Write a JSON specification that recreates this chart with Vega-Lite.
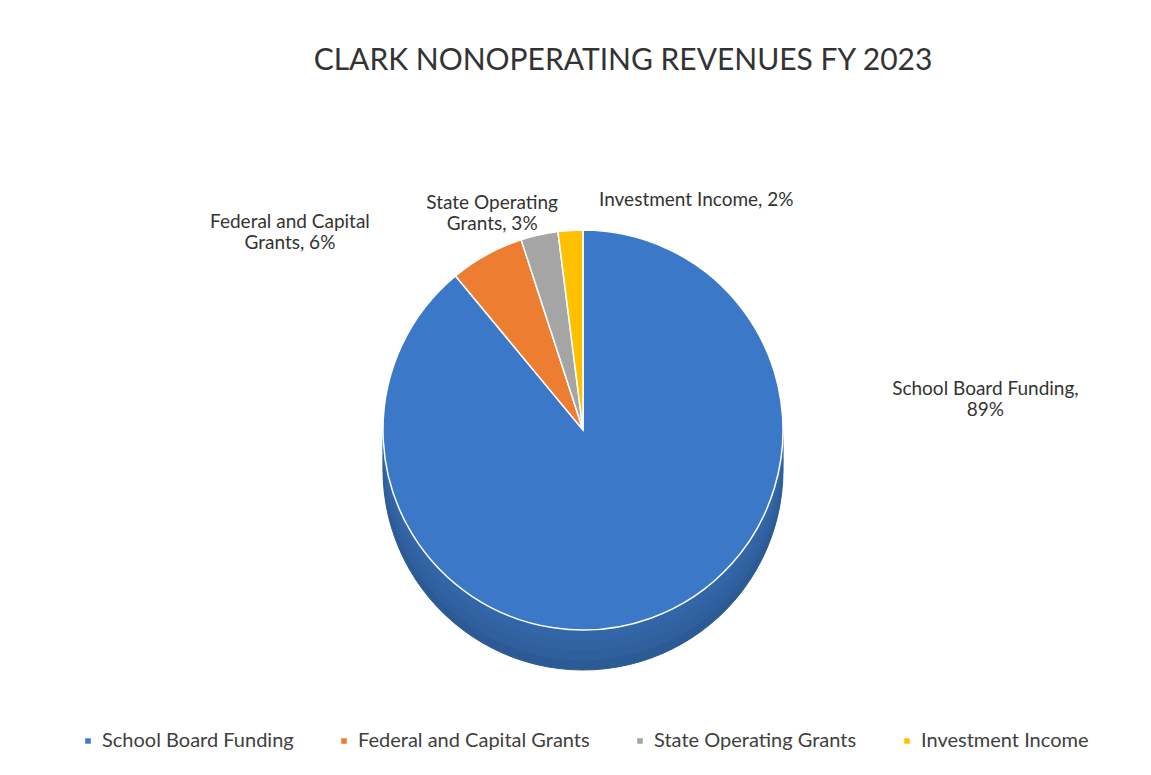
{
  "$schema": "https://vega.github.io/schema/vega-lite/v6.json",
  "autosize": {"type": "none"},
  "width": 1136,
  "height": 560,
  "padding": {"top": 150, "bottom": 65, "left": 15, "right": 0},
  "background": "white",
  "title": {
    "text": "CLARK NONOPERATING REVENUES FY 2023",
    "font": "Lato",
    "fontSize": 30,
    "fontWeight": "normal",
    "color": "#333333",
    "offset": 74,
    "dx": 40,
    "frame": "group"
  },
  "data": {
    "values": [
      {"cat": "School Board Funding", "pct": 89, "rank": 1, "label": "School Board Funding,\n89%"},
      {"cat": "Federal and Capital Grants", "pct": 6, "rank": 2, "label": "Federal and Capital\nGrants, 6%"},
      {"cat": "State Operating Grants", "pct": 3, "rank": 3, "label": "State Operating\nGrants, 3%"},
      {"cat": "Investment Income", "pct": 2, "rank": 4, "label": "Investment Income, 2%"}
    ]
  },
  "transform": [
    {"window": [{"op": "sum", "field": "pct", "as": "cum"}], "sort": [{"field": "rank"}]}
  ],
  "layer": [
    {
      "mark": {"type": "arc", "outerRadius": 200, "yOffset": 40, "fill": "#2c5a94", "stroke": "#2c5a94"},
      "encoding": {"theta": {"field": "pct", "type": "quantitative", "stack": true}, "order": {"field": "rank", "type": "quantitative"}}
    },
    {
      "mark": {"type": "arc", "outerRadius": 200, "yOffset": 30, "fill": "#2f5f9c", "stroke": "#2f5f9c"},
      "encoding": {"theta": {"field": "pct", "type": "quantitative", "stack": true}, "order": {"field": "rank", "type": "quantitative"}}
    },
    {
      "mark": {"type": "arc", "outerRadius": 200, "yOffset": 20, "fill": "#3163a3", "stroke": "#3163a3"},
      "encoding": {"theta": {"field": "pct", "type": "quantitative", "stack": true}, "order": {"field": "rank", "type": "quantitative"}}
    },
    {
      "mark": {"type": "arc", "outerRadius": 200, "yOffset": 10, "fill": "#3366a8", "stroke": "#3366a8"},
      "encoding": {"theta": {"field": "pct", "type": "quantitative", "stack": true}, "order": {"field": "rank", "type": "quantitative"}}
    },
    {
      "mark": {"type": "arc", "outerRadius": 200, "stroke": "white", "strokeWidth": 1.5},
      "encoding": {
        "theta": {"field": "pct", "type": "quantitative", "stack": true},
        "order": {"field": "rank", "type": "quantitative"},
        "color": {
          "field": "cat",
          "type": "nominal",
          "sort": ["School Board Funding", "Federal and Capital Grants", "State Operating Grants", "Investment Income"],
          "scale": {
            "domain": ["School Board Funding", "Federal and Capital Grants", "State Operating Grants", "Investment Income"],
            "range": ["#3b78c8", "#ed7d31", "#a5a5a5", "#ffc000"]
          },
          "legend": {
            "title": null,
            "orient": "bottom",
            "direction": "horizontal",
            "symbolType": "square",
            "symbolSize": 50,
            "labelFont": "Lato",
            "labelFontSize": 20,
            "labelColor": "#404040",
            "labelLimit": 400,
            "columnPadding": 40,
            "offset": 21
          }
        }
      }
    },
    {
      "transform": [{"filter": "datum.cat === 'School Board Funding'"}],
      "mark": {"type": "text", "radius": 230, "font": "Lato", "fontSize": 19, "color": "#333333", "lineBreak": "\n", "align": "center", "baseline": "middle", "dx": 549, "dy": 136},
      "encoding": {"theta": {"field": "cum", "type": "quantitative", "stack": null}, "text": {"field": "label"}}
    },
    {
      "transform": [{"filter": "datum.cat === 'Federal and Capital Grants'"}],
      "mark": {"type": "text", "radius": 230, "font": "Lato", "fontSize": 19, "color": "#333333", "lineBreak": "\n", "align": "center", "baseline": "middle", "dx": -222, "dy": 11},
      "encoding": {"theta": {"field": "cum", "type": "quantitative", "stack": null}, "text": {"field": "label"}}
    },
    {
      "transform": [{"filter": "datum.cat === 'State Operating Grants'"}],
      "mark": {"type": "text", "radius": 230, "font": "Lato", "fontSize": 19, "color": "#333333", "lineBreak": "\n", "align": "center", "baseline": "middle", "dx": -62, "dy": 1},
      "encoding": {"theta": {"field": "cum", "type": "quantitative", "stack": null}, "text": {"field": "label"}}
    },
    {
      "transform": [{"filter": "datum.cat === 'Investment Income'"}],
      "mark": {"type": "text", "radius": 230, "font": "Lato", "fontSize": 19, "color": "#333333", "lineBreak": "\n", "align": "left", "baseline": "middle", "dx": 16, "dy": 0},
      "encoding": {"theta": {"field": "cum", "type": "quantitative", "stack": null}, "text": {"field": "label"}}
    }
  ],
  "config": {"view": {"stroke": null}, "legend": {"layout": {"bottom": {"anchor": "middle"}}}}
}
